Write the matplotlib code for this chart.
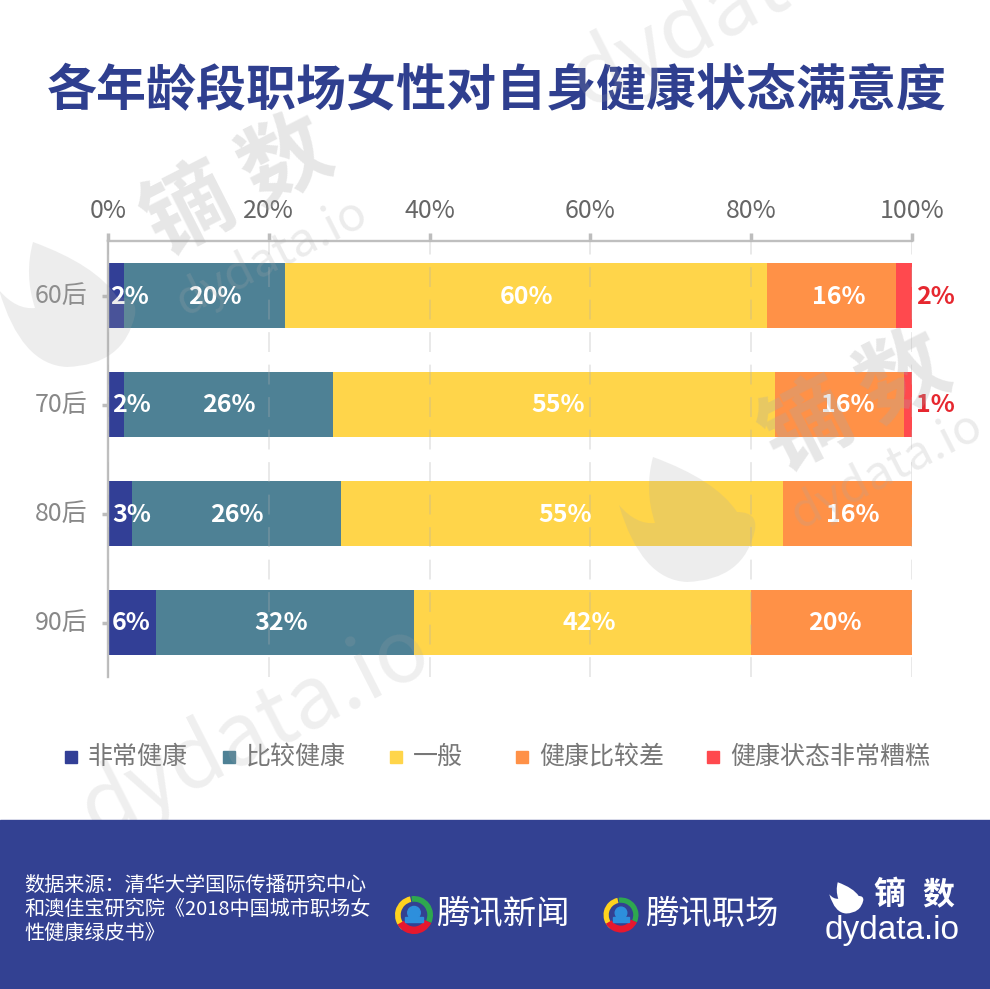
import matplotlib
matplotlib.use('Agg')
import matplotlib.pyplot as plt
from matplotlib.patches import PathPatch, Rectangle, Circle, Wedge
from matplotlib.path import Path
from matplotlib.transforms import Affine2D

plt.rcParams['font.family'] = ['Noto Sans CJK SC', 'DejaVu Sans']

# dados
idades = ['60后', '70后', '80后', '90后']
nomes = ['非常健康', '比较健康', '一般', '健康比较差', '健康状态非常糟糕']
muito_bom = [2, 2, 3, 6]
bom = [20, 26, 26, 32]
medio = [60, 55, 55, 42]
ruim = [16, 16, 16, 20]
muito_ruim = [2, 1, 0, 0]
series = [muito_bom, bom, medio, ruim, muito_ruim]
cores = ['#323f96', '#4e8195', '#ffd54a', '#ff9147', '#ff494e']
xticks = [0, 20, 40, 60, 80, 100]

W, H = 990, 989
AZUL = '#334192'

fig = plt.figure(figsize=(W / 100, H / 100), dpi=100, facecolor='white')

# camada de fundo em pixels
bg = fig.add_axes([0, 0, 1, 1], zorder=0)
bg.set_xlim(0, W)
bg.set_ylim(H, 0)
bg.axis('off')

# grafico
ax = fig.add_axes([108 / W, 1 - 677 / H, 804 / W, 436 / H], zorder=1)
ax.patch.set_alpha(0)
ax.set_xlim(0, 100)
ax.set_ylim(3.5, -0.5)

# deslocamento dos rotulos em pixels, uma linha por serie
desloc = [[13, 15, 12, -1], [10, 0, 0, -4], [0, 4, 3, 7], [7, 8, 5, 3]]

esq = [0, 0, 0, 0]
for s, vals in enumerate(series):
    ax.barh(range(4), vals, left=esq, height=0.6, color=cores[s], zorder=2)
    for i, v in enumerate(vals):
        if v == 0:
            continue
        if s == 4:
            ax.annotate(f'{v}%', (100, i), xytext=(4, -1), textcoords='offset pixels',
                        color='#e6272f', fontsize=18, fontweight='bold',
                        ha='left', va='center', zorder=5)
        else:
            ax.annotate(f'{v}%', (esq[i] + v / 2, i), xytext=(desloc[s][i], -1),
                        textcoords='offset pixels', color='white', fontsize=18,
                        fontweight='bold', ha='center', va='center', zorder=5)
    esq = [a + b for a, b in zip(esq, vals)]

ax.xaxis.tick_top()
ax.set_xticks(xticks)
ax.set_xticklabels([f'{t}%' for t in xticks], fontsize=18, color='#666666')
ax.set_yticks(range(4))
ax.set_yticklabels(idades, fontsize=18, color='#888888', va='center')
ax.tick_params(axis='x', length=6, width=2.5, color='#bdbdbd', pad=6)
ax.tick_params(axis='y', length=4, width=2.5, color='#bdbdbd', pad=10.5)
for lado in ['right', 'bottom']:
    ax.spines[lado].set_visible(False)
for lado in ['top', 'left']:
    ax.spines[lado].set_color('#bfbfbf')
    ax.spines[lado].set_linewidth(1.7)
ax.grid(axis='x', color='#b0b0b0', alpha=0.3, lw=1.3, ls=(0, (11, 7)), zorder=3)
ax.set_axisbelow(False)

# titulo
bg.text(497, 92, '各年龄段职场女性对自身健康状态满意度', color='#2f3f8f', fontsize=36,
        fontweight='bold', ha='center', va='center')

# legenda
leg_x = [65, 223, 390, 516, 707]
for nome, cor, x in zip(nomes, cores, leg_x):
    bg.add_patch(Rectangle((x, 751), 12, 12, color=cor))
    bg.text(x + 23, 757, nome, fontsize=18, color='#777777', ha='left', va='center')

# contorno da folha, relativo ao centro
FOLHA_V = [(-33, -63), (30, -40), (51, -8), (72, -8), (69, 10), (58, 60), (1, 62),
           (-45, 60), (-67, -15), (-50, 5), (-31, 3), (-42, -30), (-33, -63)]
FOLHA_C = [Path.MOVETO] + [Path.CURVE3] * 12


def folha(dest, cx, cy, esc, cor, alpha=1.0, z=1):
    t = Affine2D().scale(esc).translate(cx, cy)
    p = Path(FOLHA_V, FOLHA_C).transformed(t)
    dest.add_patch(PathPatch(p, fc=cor, ec='none', alpha=alpha, zorder=z))


# camada de cima para marcas d'agua
top = fig.add_axes([0, 0, 1, 1], zorder=2)
top.set_xlim(0, W)
top.set_ylim(H, 0)
top.axis('off')

MARCA = '#a8a8a8'
top.text(238, 188, '镝 数', fontsize=64, fontweight='bold', color=MARCA, alpha=0.28,
         rotation=27, ha='center', va='center')
top.text(272, 257, 'dydata.io', fontsize=34, color=MARCA, alpha=0.22,
         rotation=27, ha='center', va='center')
top.text(856, 404, '镝 数', fontsize=64, fontweight='bold', color=MARCA, alpha=0.28,
         rotation=27, ha='center', va='center')
top.text(887, 470, 'dydata.io', fontsize=34, color=MARCA, alpha=0.22,
         rotation=27, ha='center', va='center')
top.text(255, 730, 'dydata.io', fontsize=62, color=MARCA, alpha=0.18,
         rotation=27, ha='center', va='center')
top.text(745, 0, 'dydata.io', fontsize=62, color=MARCA, alpha=0.18,
         rotation=27, ha='center', va='center')
folha(top, 66, 305, 1, MARCA, 0.2, 3)
folha(top, 686, 520, 1, MARCA, 0.2, 3)

# rodape
top.add_patch(Rectangle((0, 820), W, H - 820, color=AZUL, zorder=6))
fonte = ['数据来源：清华大学国际传播研究中心', '和澳佳宝研究院《2018中国城市职场女', '性健康绿皮书》']
for i, linha in enumerate(fonte):
    top.text(24, 885 + i * 24, linha, color='white', fontsize=14.5, ha='left', va='center', zorder=7)


def logo(cx, cy, r):
    larg = r * 0.3
    for a1, a2, c, w in [(130, 258, '#ffd21f', larg), (262, 385, '#2ea84f', larg),
                         (25, 150, '#e6182e', larg * 1.3)]:
        top.add_patch(Wedge((cx, cy), r, a1, a2, width=w, fc=c, ec='none', zorder=7))
    top.add_patch(Circle((cx, cy - r * 0.12), r * 0.33, color='#2d8fdc', zorder=7))
    top.add_patch(Rectangle((cx - r * 0.45, cy + r * 0.1), r * 0.9, r * 0.28, color='#2d8fdc', zorder=7))


logo(414, 915, 19)
logo(621, 915, 17.5)
top.text(503, 914, '腾讯新闻', color='white', fontsize=24, ha='center', va='center', zorder=7)
top.text(712, 914, '腾讯职场', color='white', fontsize=24, ha='center', va='center', zorder=7)

folha(top, 846, 898, 0.25, 'white', 1.0, 7)
top.text(889, 895, '镝', color='white', fontsize=23, fontweight='bold', ha='center', va='center', zorder=7)
top.text(938, 895, '数', color='white', fontsize=23, fontweight='bold', ha='center', va='center', zorder=7)
top.text(892, 931, 'dydata.io', color='white', fontsize=24, family=['Liberation Sans', 'DejaVu Sans'],
         ha='center', va='center', zorder=7)

fig.savefig('out.png', dpi=100)
